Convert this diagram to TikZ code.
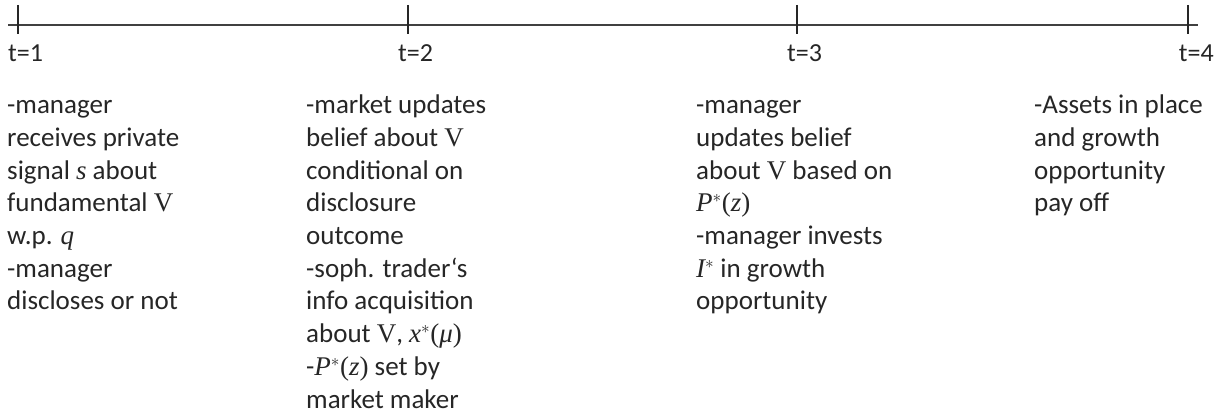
\documentclass[tikz,border=0pt]{standalone}
\usepackage{fontspec}
\setmainfont{Carlito}
\newfontfamily\mth{Liberation Serif}
\newcommand{\mi}[1]{{\mth\itshape #1}}
\newcommand{\mr}[1]{{\mth #1}}
\newcommand{\topstrut}{\rule{0pt}{20pt}}
\begin{document}
\begin{tikzpicture}[x=1pt,y=-1pt,
  axis/.style={draw=black!75, line width=1.3pt},
  tick/.style={draw=black!85, line width=1.3pt},
  lbl/.style={anchor=west, inner sep=0pt, text=black!85, font=\fontsize{26}{32.7}\selectfont},
  col/.style={anchor=north west, inner sep=0pt, align=left, text=black!85, font=\fontsize{27}{32.7}\selectfont}]
\useasboundingbox (0,0) rectangle (1227,417);
\coordinate (L) at (8,25);
\coordinate (R) at (1198,25);
\draw[axis] (L) -- (R);
\foreach \x/\n in {18/1,408/2,797/3,1188/4}{
  \coordinate (ta\n) at (\x,5);
  \coordinate (tb\n) at (\x,34);
  \draw[tick] (ta\n) -- (tb\n);
}
\node[lbl] (t1) at (8,53) {t=1};
\node[lbl] (t2) at (398,53) {t=2};
\node[lbl] (t3) at (787,53) {t=3};
\node[lbl,anchor=east] (t4) at (1214,53) {t=4};
\node[col] (c1) at (7,93.5) {\topstrut-manager\\receives private\\signal \mi{s} about\\fundamental \mr{V}\\w.p. \mi{q}\\-manager\\discloses or not};
\node[col] (c2) at (306,93.5) {\topstrut-market updates\\belief about \mr{V}\\conditional on\\disclosure\\outcome\\-soph. trader‘s\\info acquisition\\about \mr{V}, \mi{x}$^{*}$\mr{(}\mi{μ}\mr{)}\\-\mi{P}$^{*}$\mr{(}\mi{z}\mr{)} set by\\market maker};
\node[col] (c3) at (696,93.5) {\topstrut-manager\\updates belief\\about \mr{V} based on\\\mi{P}$^{*}$\mr{(}\mi{z}\mr{)}\\-manager invests\\\mi{I}$^{*}$ in growth\\opportunity};
\node[col] (c4) at (1034,93.5) {\topstrut-Assets in place\\and growth\\opportunity\\pay off};
\end{tikzpicture}
\end{document}
